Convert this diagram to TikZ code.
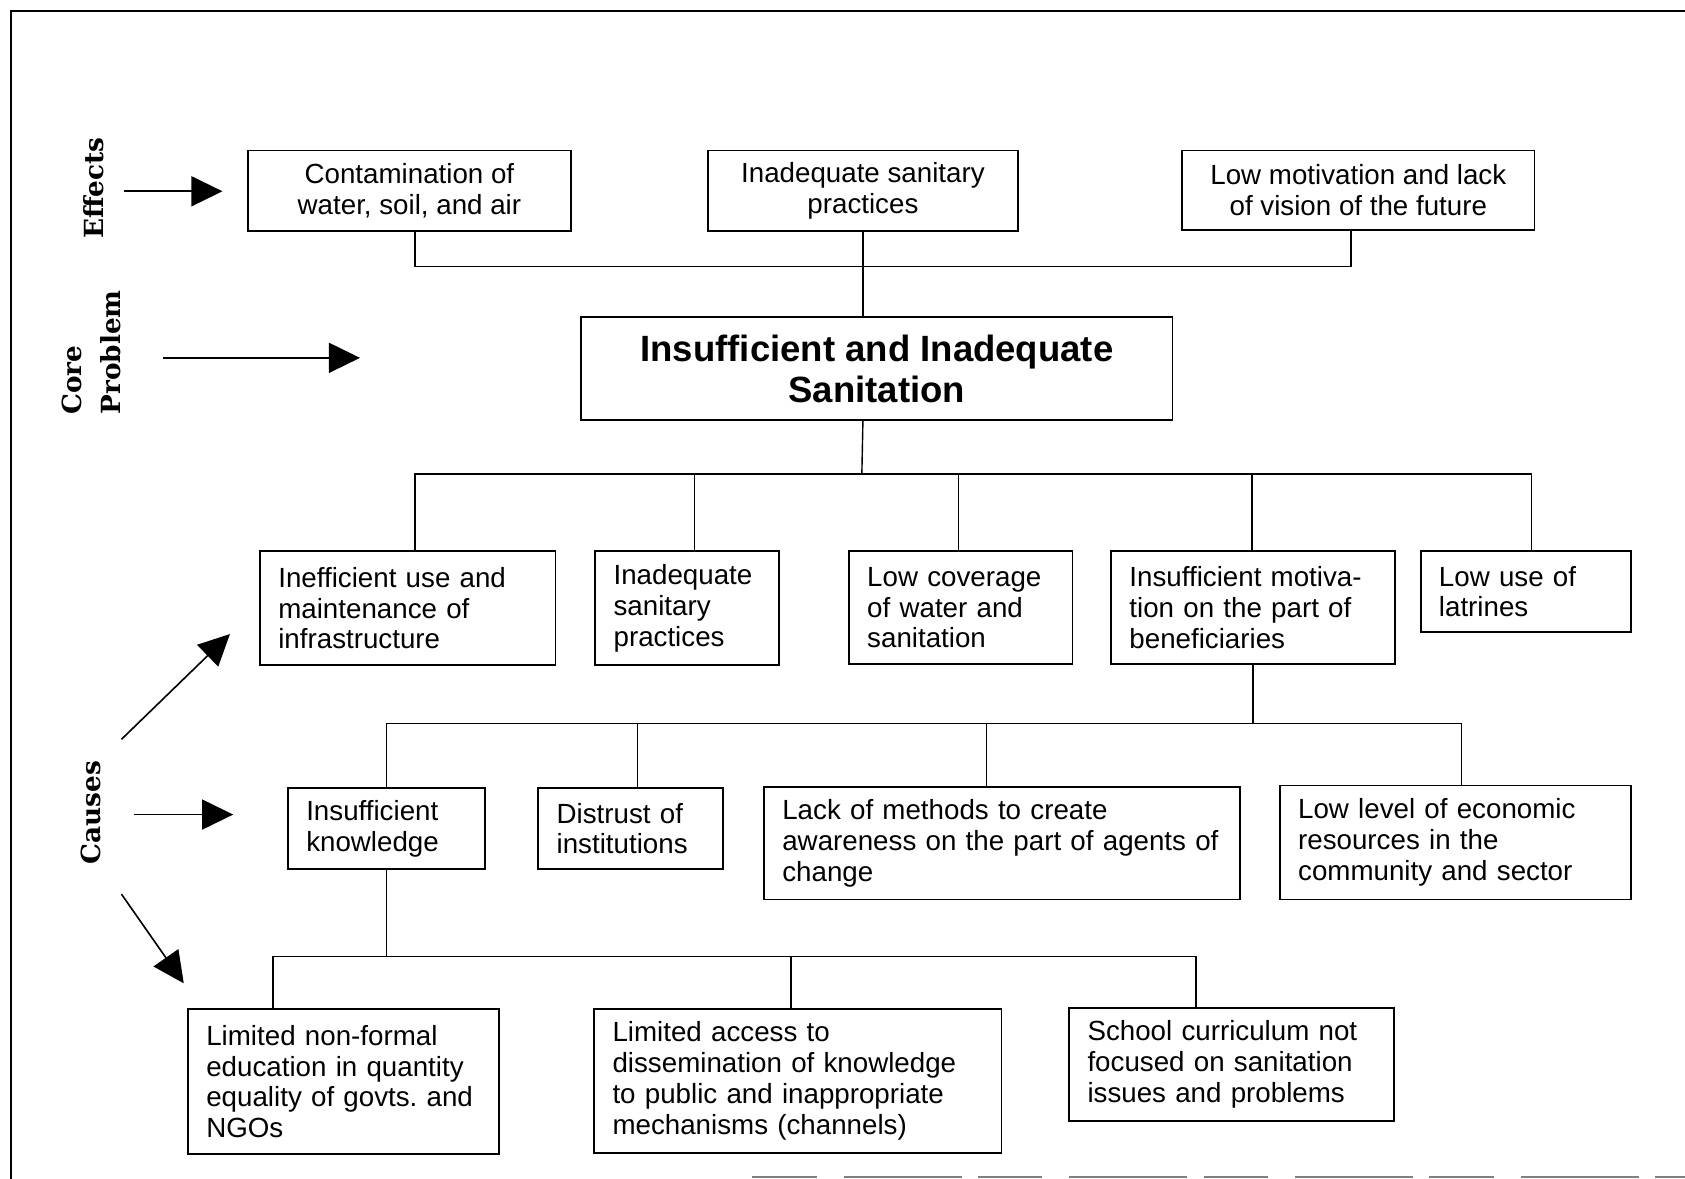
\documentclass[tikz,border=0pt]{standalone}
\usepackage{fontspec}
\setmainfont{Liberation Sans}
\newfontfamily\sidefont{DejaVu Serif}
\usetikzlibrary{arrows.meta}
\frenchspacing

\tikzset{
  box/.style={draw, line width=1.7pt, inner xsep=17pt, inner ysep=0pt,
    font=\fontsize{25.8}{28.7}\selectfont},
  cbox/.style 2 args={box, align=center, minimum width=#1pt, minimum height=#2pt},
  lbox/.code 2 args={\pgfmathsetmacro\boxtw{#1-34}%
    \edef\boxopts{box, align=left, minimum width=#1pt, minimum height=#2pt, text width=\boxtw pt}%
    \expandafter\tikzset\expandafter{\boxopts}},
  core/.style={cbox={550}{96}, font=\bfseries\fontsize{34}{38}\selectfont},
  link/.style={line width=1.3pt},
  pointer/.style={line width=1.5pt, -{Triangle[length=29pt, width=28pt]}},
  side/.style={rotate=90, inner sep=0pt, align=left,
    font=\sidefont\bfseries\fontsize{24.5}{36}\selectfont},
  frame/.style={line width=2pt}
}

\begin{document}
\begin{tikzpicture}[x=1pt, y=-1pt]
\useasboundingbox (0,0) rectangle (1568,1097);
\draw[frame] (10,1097) -- (10,10) -- (1568,10);
\draw[frame, gray, dash pattern=on 60pt off 25pt on 110pt off 15pt] (700,1095) -- (1568,1095);

% side labels
\node[side] (effects) at (87,175) {Effects};
\node[side, anchor=west] (coreprob) at (85,386) {Core\\Problem};
\node[side] (causes) at (85,756) {Causes};

\coordinate (effS) at (115,178);  \coordinate (effE) at (207,178);
\coordinate (coreS) at (152,333); \coordinate (coreE) at (335,333);
\coordinate (upS) at (113,688);   \coordinate (upE) at (214,590);
\coordinate (midS) at (125,758);  \coordinate (midE) at (217,758);
\coordinate (dnS) at (113,832);   \coordinate (dnE) at (171,915);
\draw[pointer] (effS) -- (effE);
\draw[pointer] (coreS) -- (coreE);
\draw[pointer] (upS) -- (upE);
\draw[pointer] (midS) -- (midE);
\draw[pointer] (dnS) -- (dnE);

% effects
\node[cbox={300}{75}] (eff1) at (381,177.5) {Contamination of\\water, soil, and air};
\node[cbox={288}{75}] (eff2) at (803,177.5) {Inadequate sanitary\\practices};
\node[cbox={328}{74}] (eff3) at (1264,177) {Low motivation and lack\\of vision of the future};

% core problem
\node[core] (core) at (816,343) {Insufficient and Inadequate\\Sanitation};

% causes
\node[lbox={275}{106}] (use) at (379.5,566) {Inefficient use and\\maintenance of\\infrastructure};
\node[lbox={171}{106}] (prac) at (639.5,566) {Inadequate\\sanitary\\practices};
\node[lbox={208}{105}] (cover) at (894,565.5) {Low coverage\\of water and\\sanitation};
\node[lbox={264}{105}] (motiv) at (1166,565.5) {Insufficient motiva-\\tion on the part of\\beneficiaries};
\node[lbox={196}{75}] (latr) at (1420,550.5) {Low use of\\latrines};

\node[lbox={183}{76}] (know) at (359.5,771) {Insufficient\\knowledge};
\node[lbox={172}{76}] (trust) at (587,771) {Distrust of\\institutions};
\node[lbox={443}{105}] (meth) at (932.5,784.5) {Lack of methods to create\\awareness on the part of agents of\\change};
\node[lbox={327}{106}] (econ) at (1354.5,784) {Low level of economic\\resources in the\\community and sector};

\node[lbox={289}{135}] (nonf) at (319.5,1006.5) {Limited non-formal\\education in quantity\\equality of govts. and\\NGOs};
\node[lbox={379}{134}] (access) at (742.5,1006) {Limited access to\\dissemination of knowledge\\to public and inappropriate\\mechanisms (channels)};
\node[lbox={302}{105}] (school) at (1146,990.5) {School curriculum not\\focused on sanitation\\issues and problems};

% connectors
\coordinate (effbus) at (802,248);
\draw[link] ([xshift=5pt]eff1.south) |- (effbus) -| ([xshift=-7pt]eff3.south);
\draw[link] (eff2.south) -- (eff2.south |- core.north);

\coordinate (causebus) at (802,441);
\draw[link] (eff2.south |- core.south) -- (causebus);
\draw[link] ([xshift=6.5pt]use.north) |- (causebus) -| ([xshift=5pt]latr.north);
\foreach \n/\dx in {prac/6.5, cover/-2, motiv/-1}
  \draw[link] ([xshift=\dx pt]\n.north) -- ([xshift=\dx pt]\n.north |- causebus);

\coordinate (motivbus) at (1165,673);
\draw[link] (motiv.south) -- (motiv.south |- motivbus);
\draw[link] (know.north) |- (motivbus) -| ([xshift=5.5pt]econ.north);
\foreach \n/\dx in {trust/6, meth/-14.5}
  \draw[link] ([xshift=\dx pt]\n.north) -- ([xshift=\dx pt]\n.north |- motivbus);

\coordinate (knowbus) at (359,890);
\draw[link] (know.south) -- (know.south |- knowbus);
\draw[link] ([xshift=-65.5pt]nonf.north) |- (knowbus) -| ([xshift=-33pt]school.north);
\draw[link] ([xshift=-6.5pt]access.north) -- ([xshift=-6.5pt]access.north |- knowbus);
\end{tikzpicture}
\end{document}
